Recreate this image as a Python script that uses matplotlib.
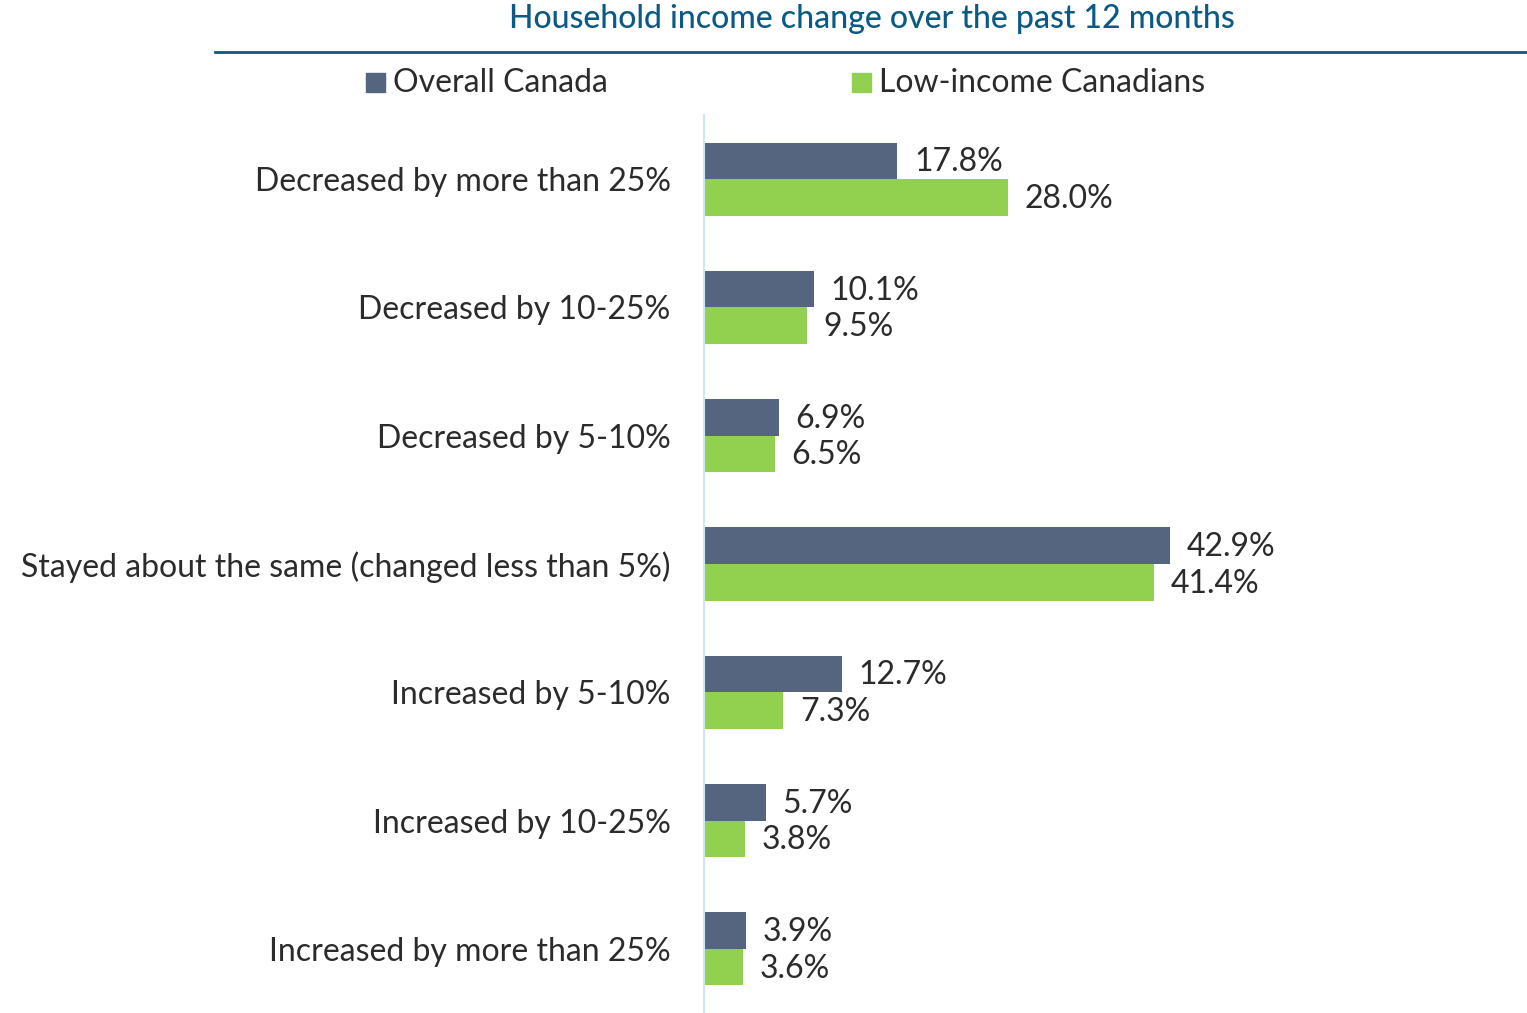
import numpy as np
from matplotlib import pyplot as plt
from matplotlib.patches import Rectangle
from matplotlib.lines import Line2D

# -----------DATA-----------------
categories = [
    "Decreased by more than 25%",
    "Decreased by 10-25%",
    "Decreased by 5-10%",
    "Stayed about the same (changed less than 5%)",
    "Increased by 5-10%",
    "Increased by 10-25%",
    "Increased by more than 25%",
]
overall = [17.8, 10.1, 6.9, 42.9, 12.7, 5.7, 3.9]
low_income = [28.0, 9.5, 6.5, 41.4, 7.3, 3.8, 3.6]
series_names = ["Overall Canada", "Low-income Canadians"]
title = "Household income change over the past 12 months"

# -----------STYLE-----------------
FONT = "Lato"
DARK = "#56657f"
GREEN = "#92d050"
TITLE_C = "#0b5a85"
TEXT_C = "#2b2b2b"
FS = 23
W, H = 1527, 1013

plt.rcParams["font.family"] = [FONT, "DejaVu Sans"]

fig = plt.figure(figsize=(W / 100, H / 100), dpi=100)
ax = fig.add_axes([704 / W, 0, 1 - 704 / W, (1013 - 115) / H])

y = np.arange(len(categories))
bh = 0.285
ax.barh(y - bh / 2, overall, height=bh, color=DARK)
ax.barh(y + bh / 2, low_income, height=bh, color=GREEN)

for yi, v in zip(y, overall):
    ax.annotate(f"{v:.1f}%", (v, yi - bh / 2), xytext=(12, -1), textcoords="offset points",
                va="center", ha="left", fontsize=FS, color=TEXT_C)
for yi, v in zip(y, low_income):
    ax.annotate(f"{v:.1f}%", (v, yi + bh / 2), xytext=(12, -1), textcoords="offset points",
                va="center", ha="left", fontsize=FS, color=TEXT_C)

ax.set_xlim(0, 823 / 10.86)
ax.set_ylim(len(categories) - 0.5, -0.5)
ax.set_yticks(y)
ax.set_yticklabels(categories, fontsize=FS, color=TEXT_C)
ax.tick_params(axis="y", length=0, pad=24)
ax.set_xticks([])
for s in ["top", "right", "bottom"]:
    ax.spines[s].set_visible(False)
ax.spines["left"].set_color("#cce6f4")
ax.spines["left"].set_linewidth(1.5)

# title + rule
fig.text(872 / W, 1 - 19 / H, title, ha="center", va="center", fontsize=FS,
         color=TITLE_C, fontweight="medium")
fig.add_artist(Line2D([215 / W, 1], [1 - 52 / H, 1 - 52 / H], color=TITLE_C, lw=2))

# legend
for x0, c, name in [(366, DARK, series_names[0]), (852, GREEN, series_names[1])]:
    fig.add_artist(Rectangle((x0 / W, 1 - 92 / H), 19 / W, 19 / H, color=c,
                             transform=fig.transFigure))
    fig.text((x0 + 27) / W, 1 - 83 / H, name, ha="left", va="center", fontsize=FS, color=TEXT_C)

fig.savefig("out.png", dpi=100)
